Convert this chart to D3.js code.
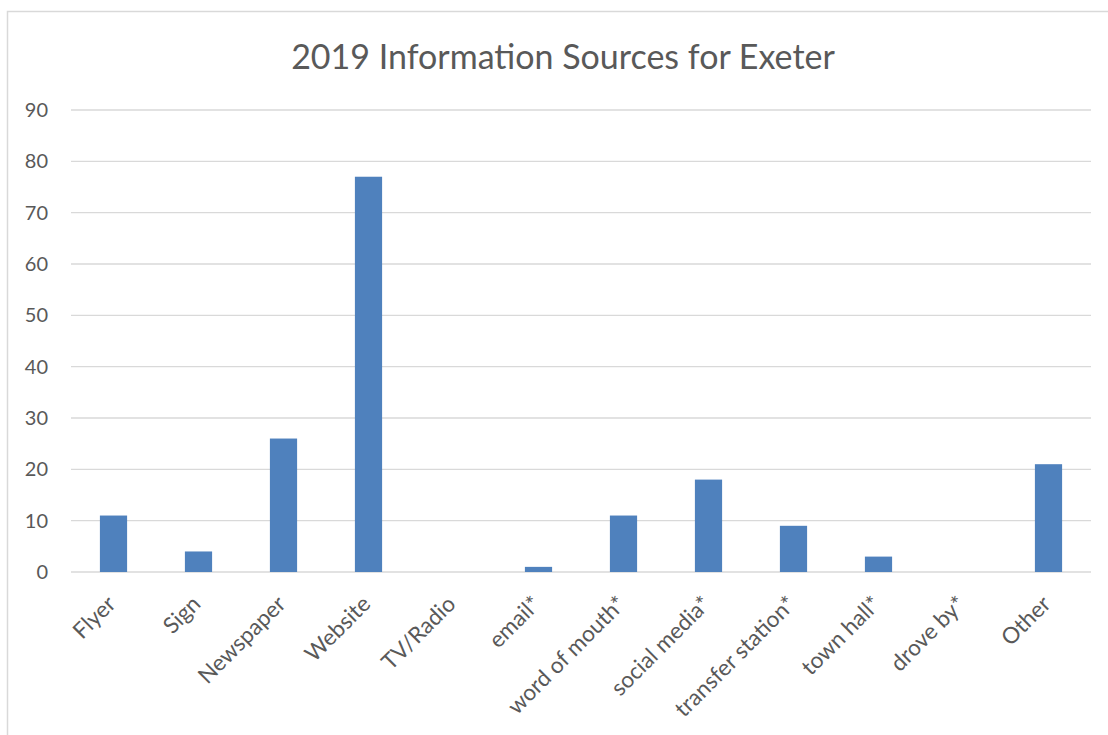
<!DOCTYPE html>
<html>
<head>
<meta charset="utf-8">
<script src="https://cdn.jsdelivr.net/npm/d3@7"></script>
<style>
    body { margin: 0; background: #fff; }
    text { font-family: Lato, "Liberation Sans", sans-serif; fill: #595959; }
</style>
</head>
<body>
<div id="chart"></div>
<script>
// chart values
const categories = ["Flyer", "Sign", "Newspaper", "Website", "TV/Radio", "email*",
    "word of mouth*", "social media*", "transfer station*", "town hall*", "drove by*", "Other"];
const counts = [11, 4, 26, 77, 0, 1, 11, 18, 9, 3, 0, 21];
const yTicks = [0, 10, 20, 30, 40, 50, 60, 70, 80, 90];
const title = "2019 Information Sources for Exeter";

const width = 1108, height = 735;
const margin = {top: 110, right: 17, bottom: 163, left: 71};

let svg = d3.select("#chart").append("svg")
    .attr("width", width)
    .attr("height", height);

// chart area border
svg.append("rect")
    .attr("x", 7.5)
    .attr("y", 11.5)
    .attr("width", width + 20)
    .attr("height", height + 20)
    .attr("fill", "none")
    .attr("stroke", "#d9d9d9")
    .attr("stroke-width", 1.5);

let g = svg.append("g")
    .attr("transform", "translate(" + margin.left + "," + margin.top + ")");

let innerW = width - margin.left - margin.right;
let innerH = height - margin.top - margin.bottom;

let x = d3.scaleBand()
    .domain(categories)
    .range([0, innerW])
    .paddingInner(0.68)
    .paddingOuter(0.34);

let y = d3.scaleLinear()
    .domain([0, 90])
    .range([innerH, 0]);

// gridlines
g.append("g")
    .attr("class", "grid")
    .selectAll("line")
    .data(yTicks)
    .enter()
    .append("line")
    .attr("x1", 0)
    .attr("x2", innerW)
    .attr("y1", d => y(d))
    .attr("y2", d => y(d))
    .attr("stroke", "#d9d9d9")
    .attr("stroke-width", 1.3);

// y axis labels
let yAxis = d3.axisLeft(y).tickValues(yTicks).tickSize(0).tickPadding(23);
g.append("g")
    .attr("class", "y-axis")
    .call(yAxis)
    .call(a => a.select(".domain").remove())
    .selectAll("text")
    .style("font-size", "20px");

// bars
g.selectAll("rect.bar")
    .data(categories.map((c, i) => ({cat: c, value: counts[i]})))
    .enter()
    .append("rect")
    .attr("class", "bar")
    .attr("x", d => x(d.cat))
    .attr("width", x.bandwidth())
    .attr("y", d => y(d.value))
    .attr("height", d => innerH - y(d.value))
    .attr("fill", "#4f81bd");

// x axis labels, rotated
let xAxis = d3.axisBottom(x).tickSize(0).tickPadding(0);
let xg = g.append("g")
    .attr("class", "x-axis")
    .attr("transform", "translate(0," + innerH + ")")
    .call(xAxis);
xg.select(".domain").remove();
xg.selectAll("text")
    .style("font-size", "22.5px")
    .attr("text-anchor", "end")
    .attr("dy", null)
    .attr("y", null)
    .attr("transform", "translate(-9,21) rotate(-45)")
    .attr("dominant-baseline", "hanging");

// title
svg.append("text")
    .attr("x", 563)
    .attr("y", 69)
    .attr("text-anchor", "middle")
    .style("font-size", "34px")
    .text(title);
</script>
</body>
</html>
